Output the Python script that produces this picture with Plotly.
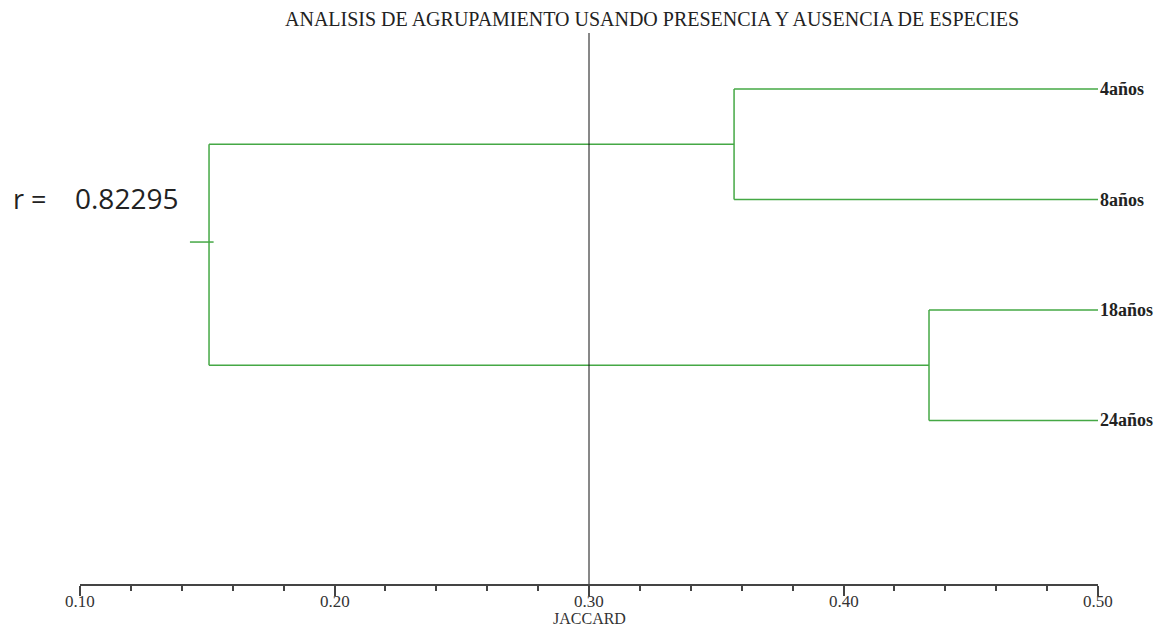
import plotly.graph_objects as go

# ---- data ----
leaf_labels = ["4años", "8años", "18años", "24años"]
leaf_pos = [0, 1, 2, 3]
leaf_level = 0.50
# merges: (child a, child b, similarity level); ids >= 4 are clusters
merges = [(0, 1, 0.357), (2, 3, 0.4336), (4, 5, 0.1507)]
root_stub_x = [0.1432, 0.1525]
root_stub_y = 1.385
cut_level = 0.30
r_value = "0.82295"
tick_vals = [0.10, 0.20, 0.30, 0.40, 0.50]
tick_text = ["0.10", "0.20", "0.30", "0.40", "0.50"]
title_text = "ANALISIS DE AGRUPAMIENTO USANDO PRESENCIA Y AUSENCIA DE ESPECIES"
axis_title = "JACCARD"

GREEN = "#45a845"

# build dendrogram segments
node_x = {i: leaf_level for i in range(len(leaf_labels))}
node_y = {i: leaf_pos[i] for i in range(len(leaf_labels))}
xs, ys = [], []
nid = len(leaf_labels)
for a, b, h in merges:
    for c in (a, b):
        xs += [node_x[c], h, None]
        ys += [node_y[c], node_y[c], None]
    xs += [h, h, None]
    ys += [node_y[a], node_y[b], None]
    node_x[nid] = h
    node_y[nid] = (node_y[a] + node_y[b]) / 2
    nid += 1
xs += [root_stub_x[0], root_stub_x[1], None]
ys += [root_stub_y, root_stub_y, None]

# page body has an 8px margin: design in window pixels, shift by OFF
OFF = 8
W, H = 1167 - OFF, 627 - OFF
plot_left, plot_right, plot_top, plot_bottom = 80, 1098, 33, 584  # window px
ml = plot_left - OFF
mr = (W + OFF) - plot_right
mt = plot_top - OFF
mb = (H + OFF) - plot_bottom
pw, ph = plot_right - plot_left, plot_bottom - plot_top


def px_to_paper(px, py):
    return (px - plot_left) / pw, (plot_bottom - py) / ph


fig = go.Figure()
fig.add_trace(go.Scatter(x=xs, y=ys, mode="lines",
                         line=dict(color=GREEN, width=1.5),
                         hoverinfo="skip", cliponaxis=False, showlegend=False))

fig.add_shape(type="line", xref="x", yref="paper", x0=cut_level, x1=cut_level,
              y0=0, y1=1, line=dict(color="#111111", width=1))

for lab, p in zip(leaf_labels, leaf_pos):
    fig.add_annotation(x=leaf_level, y=p, xref="x", yref="y", text=f"<b>{lab}</b>",
                       showarrow=False, xanchor="left", yanchor="middle", xshift=0,
                       font=dict(family="Liberation Serif", size=18, color="#222222"))

rx, ry = px_to_paper(11, 198)
fig.add_annotation(x=rx, y=ry, xref="paper", yref="paper", text="r =",
                   showarrow=False, xanchor="left", yanchor="middle",
                   font=dict(family="Open Sans", size=27, color="#222222"))
vx, vy = px_to_paper(73, 198)
fig.add_annotation(x=vx, y=vy, xref="paper", yref="paper", text=r_value,
                   showarrow=False, xanchor="left", yanchor="middle",
                   font=dict(family="Open Sans", size=28, color="#222222"))

for tv, tt in zip(tick_vals, tick_text):
    _, ly = px_to_paper(0, 601)
    fig.add_annotation(x=tv, y=ly, xref="x", yref="paper", text=tt,
                       showarrow=False, xanchor="center", yanchor="middle",
                       font=dict(family="Liberation Serif", size=17, color="#333333"))

jx, jy = px_to_paper(595, 618)
fig.add_annotation(x=cut_level, y=jy, xref="x", yref="paper", text=axis_title,
                   showarrow=False, xanchor="center", yanchor="middle",
                   font=dict(family="Liberation Serif", size=16, color="#333333"))

tx, ty = px_to_paper(652, 19)
fig.add_annotation(x=tx, y=ty, xref="paper", yref="paper", text=title_text,
                   showarrow=False, xanchor="center", yanchor="middle",
                   font=dict(family="Liberation Serif", size=20, color="#222222"))

fig.update_layout(
    width=W, height=H,
    margin=dict(l=ml, r=mr, t=mt, b=mb, autoexpand=False),
    paper_bgcolor="white", plot_bgcolor="white",
    xaxis=dict(range=[0.10, 0.50], showgrid=False, zeroline=False,
               showline=True, linecolor="#444444", linewidth=1.5,
               ticks="outside", ticklen=10, tickwidth=1.5, tickcolor="#444444",
               tickvals=tick_vals, showticklabels=False,
               minor=dict(dtick=0.02, ticks="outside", ticklen=5, tickwidth=1.5,
                          tickcolor="#444444", showgrid=False)),
    yaxis=dict(range=[4.48, -0.507], visible=False),
)

fig.write_html("out.html")
